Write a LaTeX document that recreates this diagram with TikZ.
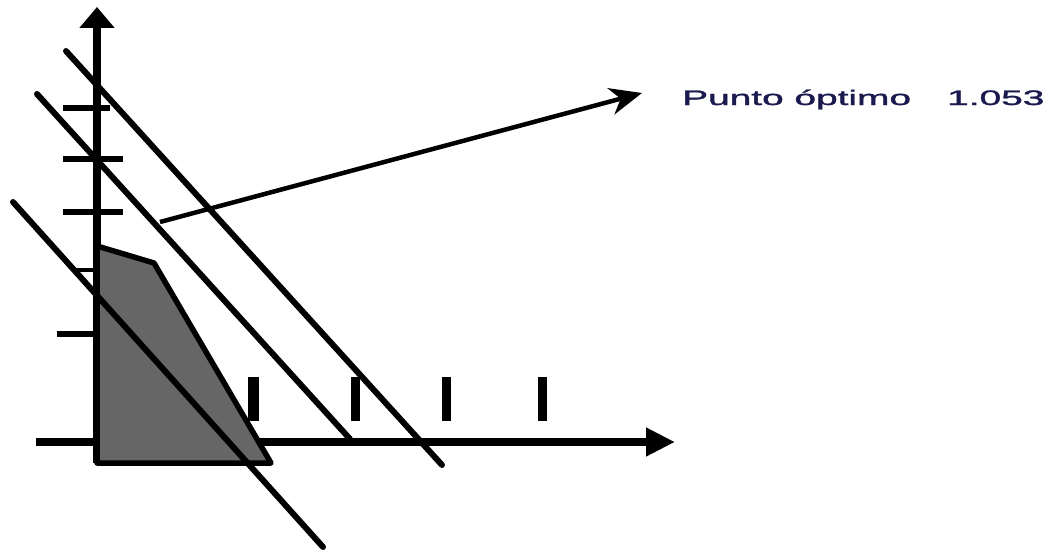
\documentclass[tikz,border=0pt]{standalone}
\usepackage{fontspec}
\usepackage{graphicx}
\usetikzlibrary{arrows.meta}
\newfontfamily\labelfont[FakeBold=1.2]{Liberation Sans}
\definecolor{ink}{HTML}{000000}
\definecolor{region}{HTML}{666666}
\definecolor{labelnavy}{HTML}{1A1A4E}
\tikzset{
  axisline/.style={draw=ink,line width=8pt},
  isoline/.style={draw=ink,line width=6pt,line cap=round},
  tickmark/.style={draw=ink,line width=6pt},
  feasible/.style={draw=ink,fill=region,line width=5.5pt,line join=round},
  pointarr/.style={-{Stealth[length=32pt,width=27pt,inset=10pt]},line width=4.5pt},
  optlabel/.style={font=\labelfont\fontsize{21}{21}\selectfont,text=labelnavy,
                   inner sep=0pt,anchor=base west}
}

\begin{document}
\begin{tikzpicture}[x=1pt,y=-1pt]
  \useasboundingbox (0,0) rectangle (1049,551);
  % ---- axes ----
  \draw[axisline,-{Triangle[length=21pt,width=34pt]}] (97,463) -- (97,7);
  \draw[axisline,-{Triangle[length=29pt,width=27pt]}] (36,442) -- (675,442);
  % ---- feasible region ----
  \draw[feasible] (97,246) -- (154,263) -- (271,463) -- (97,463) -- cycle;
  % ---- ticks on the y axis ----
  \draw[tickmark] (63,108) -- (110,108);
  \draw[tickmark] (63,159) -- (123,159);
  \draw[tickmark] (63,212) -- (123,212);
  \draw[tickmark,line width=3.5pt] (73,270) -- (97,270);
  \draw[tickmark] (57,334) -- (97,334);
  % ---- ticks on the x axis ----
  \draw[tickmark,line width=11pt] (253,377) -- (253,421);
  \foreach \tx in {355,446,542}
    \draw[tickmark,line width=9pt] (\tx,377) -- (\tx,421);
  % ---- objective lines ----
  \draw[isoline] (13,202) -- (323,547);
  \draw[isoline] (37,94) -- (350,439);
  \draw[isoline] (66,51) -- (442,465);
  % ---- optimum label ----
  \node[optlabel] (optname) at (682,105) {\scalebox{1.85}[1]{Punto óptimo}};
  \node[optlabel] (optvalue) at (947,105) {\scalebox{1.85}[1]{1.053}};
  \coordinate (touch) at (160,222);
  \coordinate (tip) at (642,93);
  \draw[pointarr] (touch) -- (tip);
\end{tikzpicture}
\end{document}
